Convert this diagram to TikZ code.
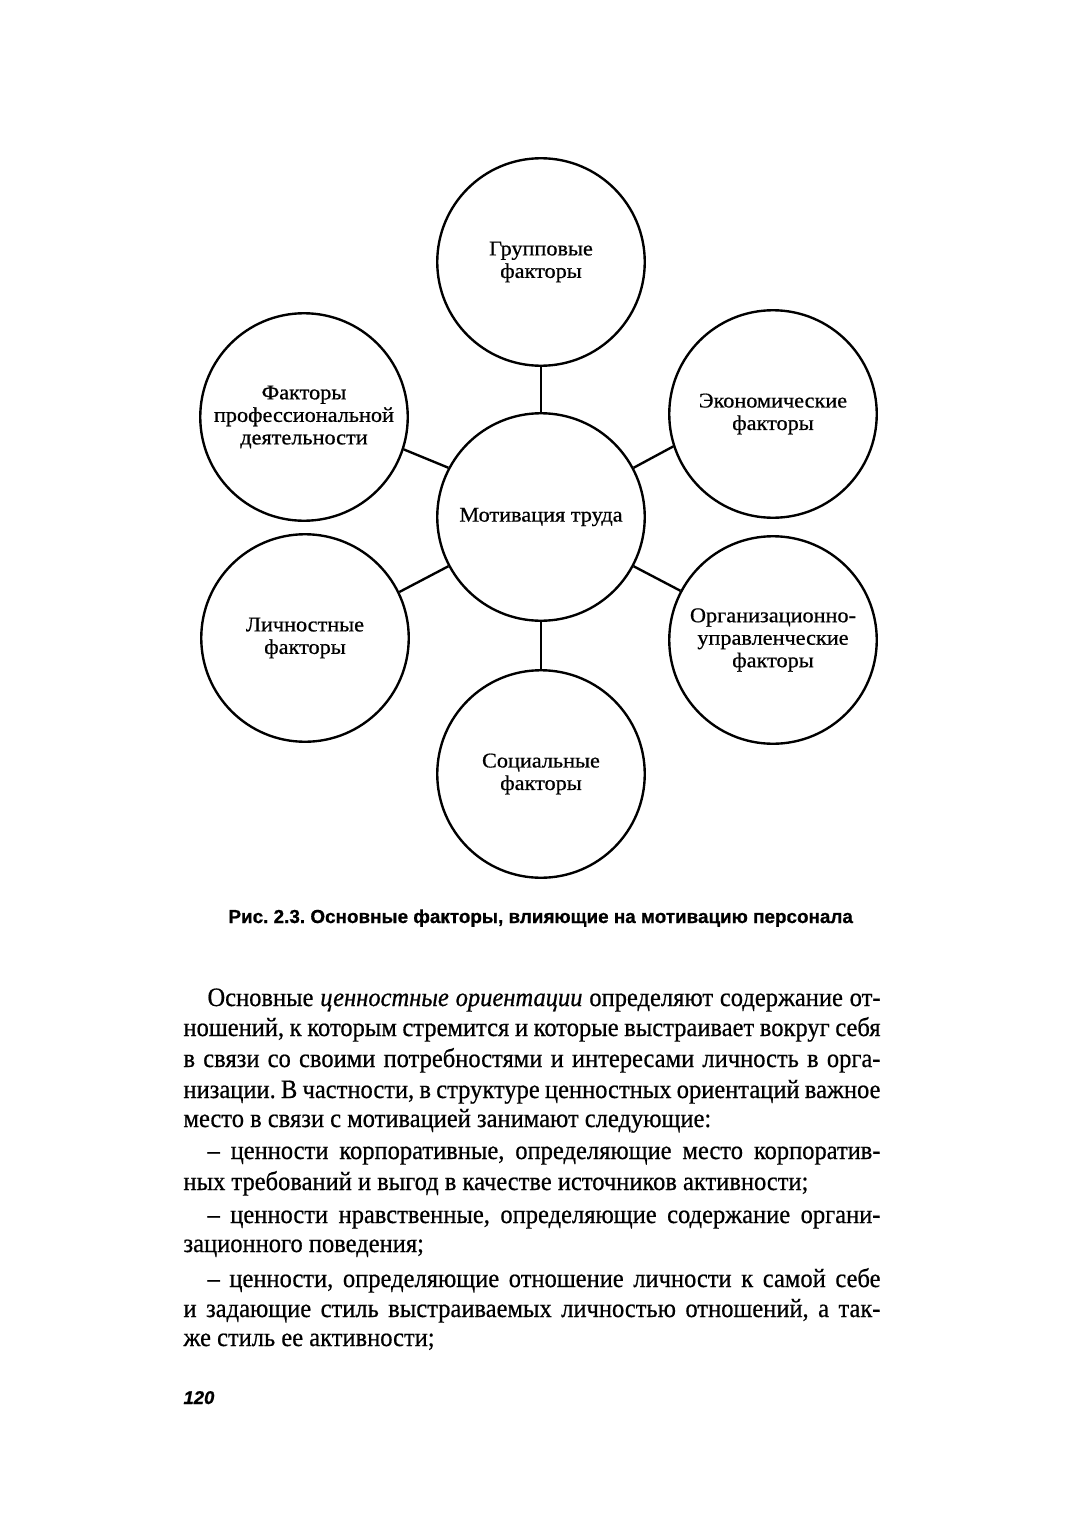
\documentclass[tikz,border=0pt]{standalone}
\usepackage{fontspec}
\setmainfont{Liberation Serif}[FakeStretch=0.925,FakeBold=0.6]
\newfontfamily\circfont{Liberation Serif}[FakeStretch=1.06,FakeBold=0.7]
\newfontfamily\capfont{Liberation Sans}[FakeBold=0.8]
\frenchspacing
\begin{document}
\begin{tikzpicture}[x=0.4pt,y=-0.4pt,
  factor/.style={circle, draw, line width=0.95pt, minimum size=83pt, inner sep=0pt, align=center,
    font=\circfont\fontsize{8.4pt}{9pt}\selectfont},
  link/.style={line width=0.95pt},
  bodyline/.style={anchor=base west, inner sep=0pt, font=\fontsize{10.6pt}{12pt}\selectfont},
  captext/.style={anchor=base west, inner sep=0pt, font=\capfont\bfseries\fontsize{7.55pt}{9pt}\selectfont},
  pagenum/.style={anchor=base west, inner sep=0pt, font=\capfont\bfseries\itshape\fontsize{7.4pt}{9pt}\selectfont}]
\fill[white] (0,0) rectangle (1078,1532);
\useasboundingbox (0,0) rectangle (1078,1532);

\node[factor] (grp)  at (541,262) {Групповые\\факторы};
\node[factor] (prof) at (304,417) {Факторы\\профессиональной\\деятельности};
\node[factor] (econ) at (773,414) {Экономические\\факторы};
\node[factor] (mot)  at (541,517) {Мотивация труда};
\node[factor] (lich) at (305,638) {Личностные\\факторы};
\node[factor] (org)  at (773,640) {Организационно-\\управленческие\\факторы};
\node[factor] (soc)  at (541,774) {Социальные\\факторы};

\draw[link] (mot.90) -- (grp.-90);
\draw[link] (mot.-90) -- (soc.90);
\draw[link] (mot.152) -- (prof.-18);
\draw[link] (mot.28) -- (econ.198);
\draw[link] (mot.208) -- (lich.26);
\draw[link] (mot.-28) -- (org.152);

\node[captext] (cap) at (228,923) {Рис. 2.3. Основные факторы, влияющие на мотивацию персонала};

\node[bodyline] (l1)  at (207,1006) {\makebox[269.2pt][s]{Основные \textit{ценностные ориентации} определяют содержание от-}};
\node[bodyline] (l2)  at (183,1036) {\makebox[278.8pt][s]{ношений, к которым стремится и которые выстраивает вокруг себя}};
\node[bodyline] (l3)  at (183,1067) {\makebox[278.8pt][s]{в связи со своими потребностями и интересами личность в орга-}};
\node[bodyline] (l4)  at (183,1098) {\makebox[278.8pt][s]{низации. В частности, в структуре ценностных ориентаций важное}};
\node[bodyline] (l5)  at (183,1127) {место в связи с мотивацией занимают следующие:};
\node[bodyline] (l6)  at (207,1159) {\makebox[269.2pt][s]{– ценности корпоративные, определяющие место корпоратив-}};
\node[bodyline] (l7)  at (183,1190) {ных требований и выгод в качестве источников активности;};
\node[bodyline] (l8)  at (207,1223) {\makebox[269.2pt][s]{– ценности нравственные, определяющие содержание органи-}};
\node[bodyline] (l9)  at (183,1252) {зационного поведения;};
\node[bodyline] (l10) at (207,1287) {\makebox[269.2pt][s]{– ценности, определяющие отношение личности к самой себе}};
\node[bodyline] (l11) at (183,1317) {\makebox[278.8pt][s]{и задающие стиль выстраиваемых личностью отношений, а так-}};
\node[bodyline] (l12) at (183,1346) {же стиль ее активности;};

\node[pagenum] (pg) at (183,1404) {120};
\end{tikzpicture}
\end{document}
